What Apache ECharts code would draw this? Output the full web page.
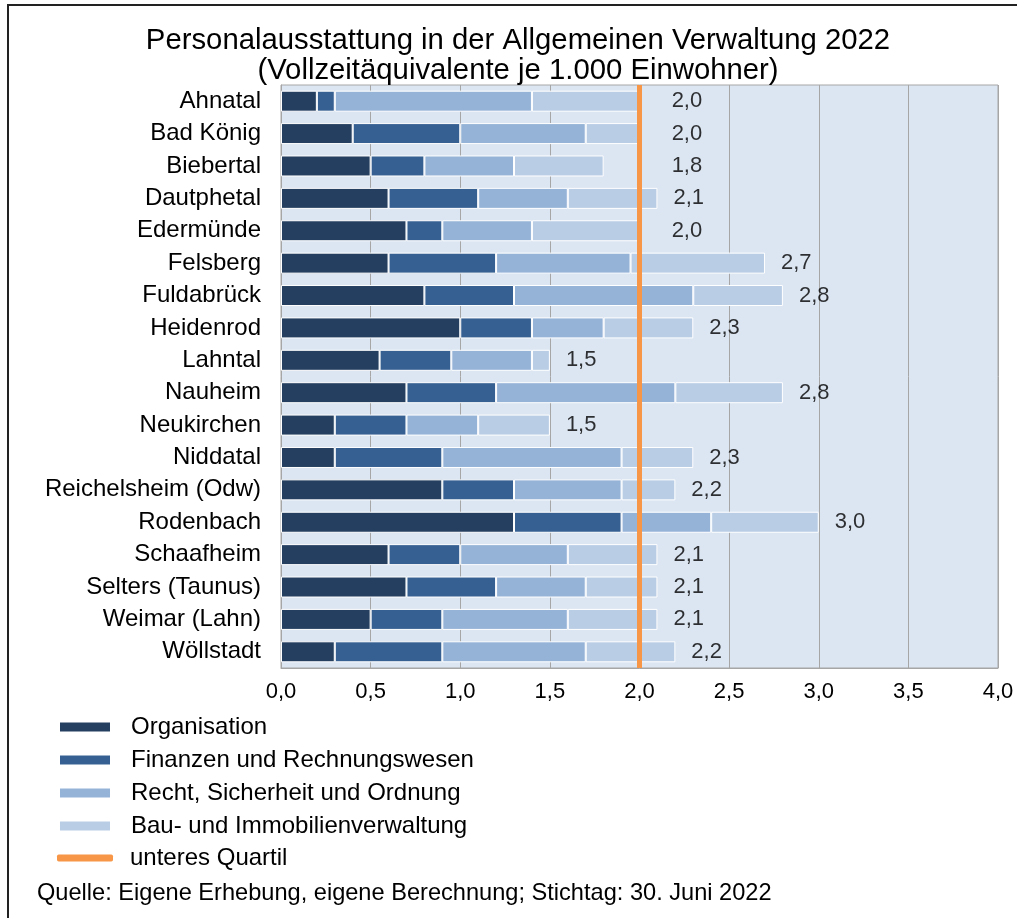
<!DOCTYPE html>
<html>
<head>
<meta charset="utf-8">
<script src="https://cdn.jsdelivr.net/npm/echarts@6/dist/echarts.min.js"></script>
<style>
  html, body { margin: 0; padding: 0; background: #fff; }
  #main { width: 1017px; height: 918px; }
</style>
</head>
<body>
<div id="main"></div>
<script>
var gemeinden = ['Ahnatal', 'Bad König', 'Biebertal', 'Dautphetal', 'Edermünde', 'Felsberg',
    'Fuldabrück', 'Heidenrod', 'Lahntal', 'Nauheim', 'Neukirchen', 'Niddatal',
    'Reichelsheim (Odw)', 'Rodenbach', 'Schaafheim', 'Selters (Taunus)', 'Weimar (Lahn)', 'Wöllstadt'];

var organisation = [0.2, 0.4, 0.5, 0.6, 0.7, 0.6, 0.8, 1.0, 0.55, 0.7, 0.3, 0.3, 0.9, 1.3, 0.6, 0.7, 0.5, 0.3];
var finanzen     = [0.1, 0.6, 0.3, 0.5, 0.2, 0.6, 0.5, 0.4, 0.4, 0.5, 0.4, 0.6, 0.4, 0.6, 0.4, 0.5, 0.4, 0.6];
var recht        = [1.1, 0.7, 0.5, 0.5, 0.5, 0.75, 1.0, 0.4, 0.45, 1.0, 0.4, 1.0, 0.6, 0.5, 0.6, 0.5, 0.7, 0.8];
var bau          = [0.6, 0.3, 0.5, 0.5, 0.6, 0.75, 0.5, 0.5, 0.1, 0.6, 0.4, 0.4, 0.3, 0.6, 0.5, 0.4, 0.5, 0.5];
var gesamt       = [2.0, 2.0, 1.8, 2.1, 2.0, 2.7, 2.8, 2.3, 1.5, 2.8, 1.5, 2.3, 2.2, 3.0, 2.1, 2.1, 2.1, 2.2];
var unteresQuartil = 2.0;
var xTicks = [0, 0.5, 1, 1.5, 2, 2.5, 3, 3.5, 4];

var myChart = echarts.init(document.getElementById('main'));
var schrift = 'Liberation Sans, Arial, sans-serif';

function komma(v)
{
    return v.toFixed(1).replace('.', ',');
}

// Beschriftungen: knapp unter/auf dem Quartil wird die Zahl hinter die Linie geschoben
var labelPunkte = gesamt.map(function (v, i)
{
    var x = (v <= unteresQuartil && unteresQuartil - v < 0.25) ? unteresQuartil + 0.09 : v;
    return { value: [x, gemeinden[i]], total: v };
});

function balken(name, daten, farbe)
{
    return {
        name: name,
        type: 'bar',
        stack: 'summe',
        data: daten,
        barWidth: 21,
        itemStyle: { color: farbe, borderColor: '#ffffff', borderWidth: 1 },
        emphasis: { disabled: true }
    };
}

option =
{
    animation: false,
    textStyle: { fontFamily: schrift },
    graphic:
    [
        {
            type: 'rect',
            shape: { x: 8, y: 5, width: 1030, height: 940 },
            style: { fill: 'none', stroke: '#222', lineWidth: 2 },
            silent: true
        },
        {
            type: 'text',
            x: 518,
            y: 26,
            silent: true,
            style:
            {
                text: 'Personalausstattung in der Allgemeinen Verwaltung 2022\n(Vollzeitäquivalente je 1.000 Einwohner)',
                font: '29.3px ' + schrift,
                lineHeight: 30,
                align: 'center',
                fill: '#000'
            }
        },
        {
            type: 'text',
            left: 37,
            top: 881,
            style: { text: 'Quelle: Eigene Erhebung, eigene Berechnung; Stichtag: 30. Juni 2022', font: '23.6px ' + schrift, fill: '#000' }
        }
    ],
    legend:
    [
        {
            orient: 'vertical',
            left: 53,
            top: 710,
            itemWidth: 52,
            itemHeight: 11,
            itemGap: 9,
            icon: 'rect',
            data: ['Organisation', 'Finanzen und Rechnungswesen', 'Recht, Sicherheit und Ordnung', 'Bau- und Immobilienverwaltung'],
            textStyle: { fontFamily: schrift, fontSize: 24, color: '#000', lineHeight: 24, padding: [0, 0, 0, 15] }
        },
        {
            orient: 'vertical',
            left: 52,
            top: 841,
            itemWidth: 56,
            itemHeight: 7,
            icon: 'roundRect',
            data: ['unteres Quartil'],
            textStyle: { fontFamily: schrift, fontSize: 24, color: '#000', lineHeight: 24, padding: [0, 0, 0, 12] }
        }
    ],
    grid: { left: 281, right: 19, top: 85, height: 583, show: true, backgroundColor: '#dce6f2', borderColor: '#a6a6a6', borderWidth: 1 },
    xAxis:
    {
        type: 'value',
        min: xTicks[0],
        max: xTicks[xTicks.length - 1],
        interval: 0.5,
        axisLine: { show: true, lineStyle: { color: '#a6a6a6' } },
        axisTick: { show: false },
        splitLine: { show: true, lineStyle: { color: '#a6a6a6', width: 1 } },
        axisLabel: { formatter: komma, fontSize: 22, color: '#000', margin: 13, fontFamily: schrift }
    },
    yAxis:
    {
        type: 'category',
        data: gemeinden,
        inverse: true,
        axisLine: { show: true, lineStyle: { color: '#a6a6a6' } },
        axisTick: { show: false },
        axisLabel: { fontSize: 24, color: '#000', margin: 20, fontFamily: schrift }
    },
    series:
    [
        balken('Organisation', organisation, '#243f60'),
        balken('Finanzen und Rechnungswesen', finanzen, '#366092'),
        balken('Recht, Sicherheit und Ordnung', recht, '#95b3d7'),
        balken('Bau- und Immobilienverwaltung', bau, '#b9cde5'),
        {
            name: 'unteres Quartil',
            type: 'line',
            data: [],
            itemStyle: { color: '#f79646' },
            lineStyle: { color: '#f79646', width: 5 },
            markLine:
            {
                silent: true,
                symbol: 'none',
                label: { show: false },
                lineStyle: { color: '#f79646', width: 5, type: 'solid' },
                data: [{ xAxis: unteresQuartil }]
            }
        },
        {
            type: 'scatter',
            data: labelPunkte,
            symbolSize: 0,
            silent: true,
            z: 5,
            label:
            {
                show: true,
                position: 'right',
                distance: 16,
                formatter: function (p) { return komma(p.data.total); },
                fontSize: 22,
                color: '#000',
                fontFamily: schrift
            }
        }
    ]
};

myChart.setOption(option);
</script>
</body>
</html>
